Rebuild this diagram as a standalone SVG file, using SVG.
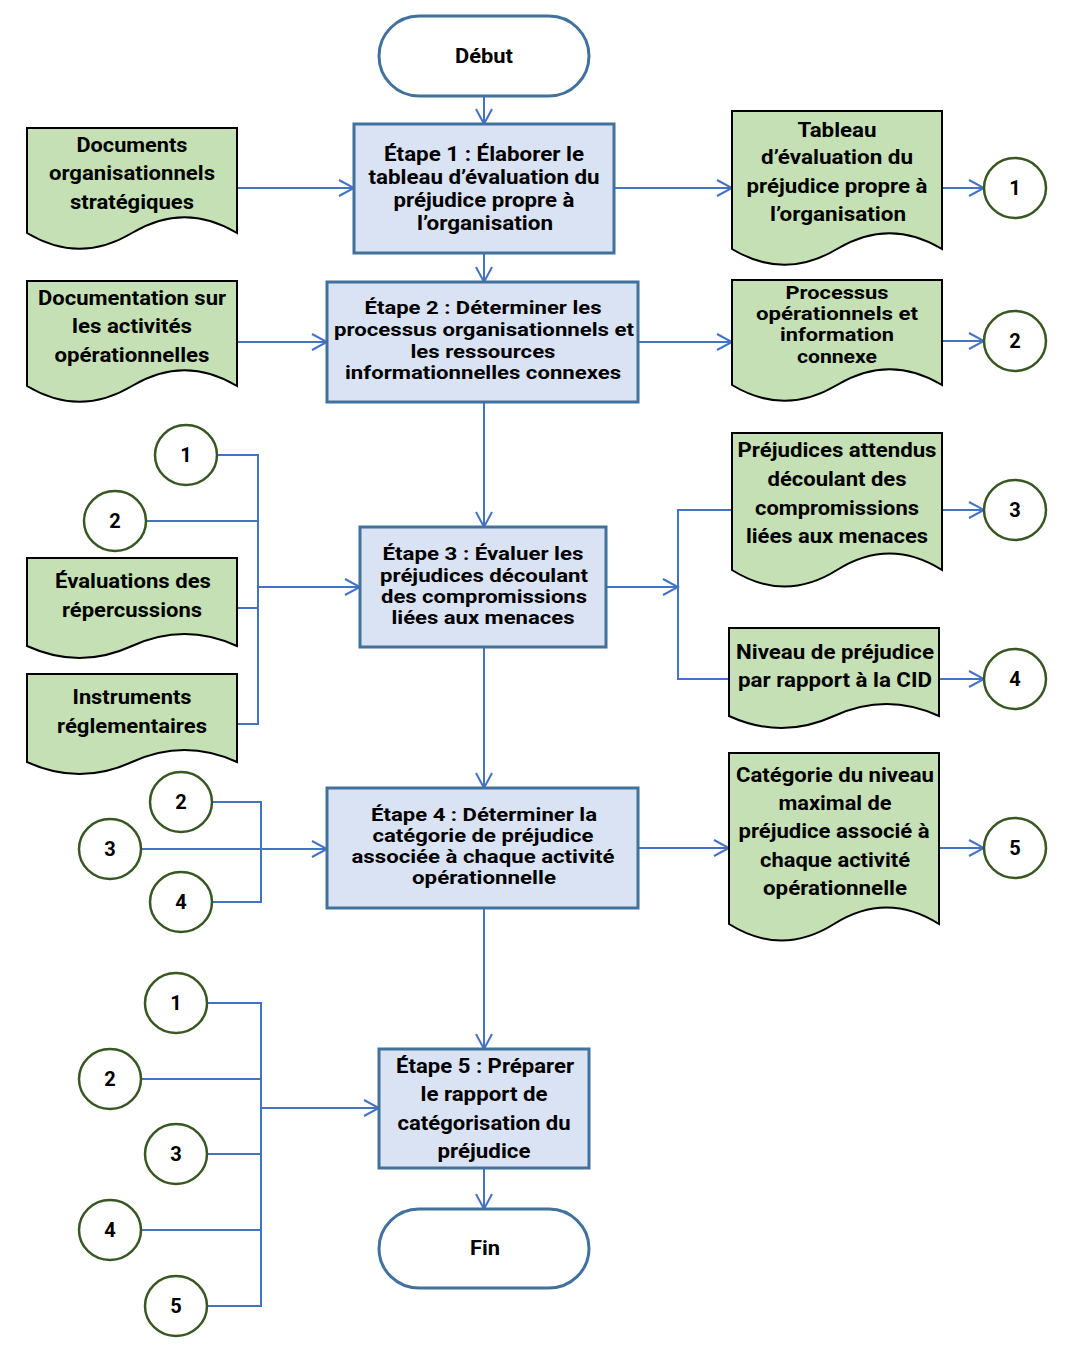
<svg xmlns="http://www.w3.org/2000/svg" width="1069" height="1362" viewBox="0 0 1069 1362">
<style>
  .term { fill: #ffffff; stroke: #41719C; stroke-width: 3; }
  .step { fill: #DAE3F3; stroke: #41719C; stroke-width: 3; }
  .doc { fill: #C5E0B4; stroke: #000000; stroke-width: 2; }
  .circ { fill: #ffffff; stroke: #385723; stroke-width: 2.5; }
  .t { font-family: Roboto, "Liberation Sans", sans-serif; font-weight: bold; fill: #000000; text-anchor: middle; }
  .ts { font-size: 20px; }
  .tt { font-size: 18px; }
  .td { font-size: 21px; }
  .tc { font-size: 20px; }
  .conn { fill: none; stroke: #4472C4; stroke-width: 2; }
</style>
<defs>
  <marker id="arr" markerWidth="18" markerHeight="20" refX="16" refY="9" orient="auto" markerUnits="userSpaceOnUse">
    <path d="M1,1 L16,9 L1,17" fill="none" stroke="#4472C4" stroke-width="2"/>
  </marker>
</defs>
<rect width="1069" height="1362" fill="#ffffff"/>

<g id="connectors">
  <path class="conn" d="M484,96 V124" marker-end="url(#arr)"/>
  <path class="conn" d="M484,253 V282" marker-end="url(#arr)"/>
  <path class="conn" d="M484,402 V527" marker-end="url(#arr)"/>
  <path class="conn" d="M484,647 V788" marker-end="url(#arr)"/>
  <path class="conn" d="M484,908 V1049" marker-end="url(#arr)"/>
  <path class="conn" d="M484,1168 V1209" marker-end="url(#arr)"/>
  <path class="conn" d="M237,188 H354" marker-end="url(#arr)"/>
  <path class="conn" d="M614,188 H732" marker-end="url(#arr)"/>
  <path class="conn" d="M942,188 H984" marker-end="url(#arr)"/>
  <path class="conn" d="M237,342 H327" marker-end="url(#arr)"/>
  <path class="conn" d="M638,342 H732" marker-end="url(#arr)"/>
  <path class="conn" d="M942,341 H984" marker-end="url(#arr)"/>
  <path class="conn" d="M217,455 H258 V724 H237"/>
  <path class="conn" d="M146,521 H258"/>
  <path class="conn" d="M237,608 H258"/>
  <path class="conn" d="M258,587 H360" marker-end="url(#arr)"/>
  <path class="conn" d="M606,587 H678" marker-end="url(#arr)"/>
  <path class="conn" d="M732,510 H678 V679 H729"/>
  <path class="conn" d="M942,510 H984" marker-end="url(#arr)"/>
  <path class="conn" d="M939,679 H984" marker-end="url(#arr)"/>
  <path class="conn" d="M212,802 H261 V902 H212"/>
  <path class="conn" d="M141,849 H327" marker-end="url(#arr)"/>
  <path class="conn" d="M638,848 H729" marker-end="url(#arr)"/>
  <path class="conn" d="M939,848 H984" marker-end="url(#arr)"/>
  <path class="conn" d="M207,1003 H261 V1306 H207"/>
  <path class="conn" d="M141,1079 H261"/>
  <path class="conn" d="M207,1154 H261"/>
  <path class="conn" d="M141,1230 H261"/>
  <path class="conn" d="M261,1108 H379" marker-end="url(#arr)"/>
</g>

<g id="debut">
  <rect class="term" x="379" y="16" width="210" height="80" rx="40" ry="40"/>
  <text class="t ts" x="484" y="63" textLength="58" lengthAdjust="spacingAndGlyphs">Début</text>
</g>

<g id="etape1">
  <rect class="step" x="354" y="124" width="260" height="129"/>
  <text class="t ts" x="484" y="161" textLength="200" lengthAdjust="spacingAndGlyphs">Étape 1 : Élaborer le</text>
  <text class="t ts" x="484" y="184" textLength="231" lengthAdjust="spacingAndGlyphs">tableau d’évaluation du</text>
  <text class="t ts" x="484" y="207" textLength="181" lengthAdjust="spacingAndGlyphs">préjudice propre à</text>
  <text class="t ts" x="485" y="230" textLength="136" lengthAdjust="spacingAndGlyphs">l’organisation</text>
</g>

<g id="etape2">
  <rect class="step" x="327" y="282" width="311" height="120"/>
  <text class="t tt" x="483" y="314" textLength="237" lengthAdjust="spacingAndGlyphs">Étape 2 : Déterminer les</text>
  <text class="t tt" x="484" y="336" textLength="300" lengthAdjust="spacingAndGlyphs">processus organisationnels et</text>
  <text class="t tt" x="483" y="358" textLength="145" lengthAdjust="spacingAndGlyphs">les ressources</text>
  <text class="t tt" x="483" y="379" textLength="276" lengthAdjust="spacingAndGlyphs">informationnelles connexes</text>
</g>

<g id="etape3">
  <rect class="step" x="360" y="527" width="246" height="120"/>
  <text class="t tt" x="483" y="560" textLength="201" lengthAdjust="spacingAndGlyphs">Étape 3 : Évaluer les</text>
  <text class="t tt" x="484" y="582" textLength="208" lengthAdjust="spacingAndGlyphs">préjudices découlant</text>
  <text class="t tt" x="484" y="603" textLength="206" lengthAdjust="spacingAndGlyphs">des compromissions</text>
  <text class="t tt" x="483" y="624" textLength="183" lengthAdjust="spacingAndGlyphs">liées aux menaces</text>
</g>

<g id="etape4">
  <rect class="step" x="327" y="788" width="311" height="120"/>
  <text class="t tt" x="484" y="821" textLength="226" lengthAdjust="spacingAndGlyphs">Étape 4 : Déterminer la</text>
  <text class="t tt" x="483" y="842" textLength="221" lengthAdjust="spacingAndGlyphs">catégorie de préjudice</text>
  <text class="t tt" x="483" y="863" textLength="263" lengthAdjust="spacingAndGlyphs">associée à chaque activité</text>
  <text class="t tt" x="484" y="884" textLength="144" lengthAdjust="spacingAndGlyphs">opérationnelle</text>
</g>

<g id="etape5">
  <rect class="step" x="379" y="1049" width="210" height="119"/>
  <text class="t ts" x="485" y="1073" textLength="178" lengthAdjust="spacingAndGlyphs">Étape 5 : Préparer</text>
  <text class="t ts" x="484" y="1101" textLength="127" lengthAdjust="spacingAndGlyphs">le rapport de</text>
  <text class="t ts" x="484" y="1130" textLength="173" lengthAdjust="spacingAndGlyphs">catégorisation du</text>
  <text class="t ts" x="484" y="1158" textLength="93" lengthAdjust="spacingAndGlyphs">préjudice</text>
</g>

<g id="fin">
  <rect class="term" x="379" y="1209" width="210" height="79" rx="40" ry="40"/>
  <text class="t ts" x="485" y="1255" textLength="30" lengthAdjust="spacingAndGlyphs">Fin</text>
</g>

<g id="doc-documents">
  <path class="doc" d="M27,128 H237 V233 C202,212 167,212 132,233 C97,254 62,254 27,233 Z"/>
  <text class="t td" x="132" y="152" textLength="111" lengthAdjust="spacingAndGlyphs">Documents</text>
  <text class="t td" x="132" y="180" textLength="166" lengthAdjust="spacingAndGlyphs">organisationnels</text>
  <text class="t td" x="132" y="209" textLength="124" lengthAdjust="spacingAndGlyphs">stratégiques</text>
</g>

<g id="doc-documentation">
  <path class="doc" d="M27,281 H237 V386 C202,365 167,365 132,386 C97,407 62,407 27,386 Z"/>
  <text class="t td" x="132" y="305" textLength="188" lengthAdjust="spacingAndGlyphs">Documentation sur</text>
  <text class="t td" x="132" y="333" textLength="120" lengthAdjust="spacingAndGlyphs">les activités</text>
  <text class="t td" x="132" y="362" textLength="155" lengthAdjust="spacingAndGlyphs">opérationnelles</text>
</g>

<g id="doc-evaluations">
  <path class="doc" d="M27,558 H237 V646 C202,630 167,630 132,646 C97,662 62,662 27,646 Z"/>
  <text class="t td" x="133" y="588" textLength="156" lengthAdjust="spacingAndGlyphs">Évaluations des</text>
  <text class="t td" x="132" y="617" textLength="140" lengthAdjust="spacingAndGlyphs">répercussions</text>
</g>

<g id="doc-instruments">
  <path class="doc" d="M27,674 H237 V762 C202,746 167,746 132,762 C97,778 62,778 27,762 Z"/>
  <text class="t td" x="132" y="704" textLength="119" lengthAdjust="spacingAndGlyphs">Instruments</text>
  <text class="t td" x="132" y="733" textLength="150" lengthAdjust="spacingAndGlyphs">réglementaires</text>
</g>

<g id="doc-tableau">
  <path class="doc" d="M732,111 H942 V249 C907,228 872,228 837,249 C802,270 767,270 732,249 Z"/>
  <text class="t td" x="837" y="137" textLength="79" lengthAdjust="spacingAndGlyphs">Tableau</text>
  <text class="t td" x="837" y="164" textLength="152" lengthAdjust="spacingAndGlyphs">d’évaluation du</text>
  <text class="t td" x="837" y="193" textLength="181" lengthAdjust="spacingAndGlyphs">préjudice propre à</text>
  <text class="t td" x="838" y="221" textLength="136" lengthAdjust="spacingAndGlyphs">l’organisation</text>
</g>

<g id="doc-processus">
  <path class="doc" d="M732,280 H942 V385 C907,364 872,364 837,385 C802,406 767,406 732,385 Z"/>
  <text class="t tt" x="837" y="299" textLength="103" lengthAdjust="spacingAndGlyphs">Processus</text>
  <text class="t tt" x="837" y="320" textLength="162" lengthAdjust="spacingAndGlyphs">opérationnels et</text>
  <text class="t tt" x="837" y="341" textLength="114" lengthAdjust="spacingAndGlyphs">information</text>
  <text class="t tt" x="837" y="363" textLength="80" lengthAdjust="spacingAndGlyphs">connexe</text>
</g>

<g id="doc-prejudices">
  <path class="doc" d="M732,433 H942 V570 C907,548 872,548 837,570 C802,592 767,592 732,570 Z"/>
  <text class="t td" x="837" y="457" textLength="199" lengthAdjust="spacingAndGlyphs">Préjudices attendus</text>
  <text class="t td" x="837" y="486" textLength="139" lengthAdjust="spacingAndGlyphs">découlant des</text>
  <text class="t td" x="837" y="515" textLength="164" lengthAdjust="spacingAndGlyphs">compromissions</text>
  <text class="t td" x="837" y="543" textLength="182" lengthAdjust="spacingAndGlyphs">liées aux menaces</text>
</g>

<g id="doc-niveau">
  <path class="doc" d="M729,628 H939 V716 C904,700 869,700 834,716 C799,732 764,732 729,716 Z"/>
  <text class="t td" x="835" y="659" textLength="198" lengthAdjust="spacingAndGlyphs">Niveau de préjudice</text>
  <text class="t td" x="835" y="687" textLength="194" lengthAdjust="spacingAndGlyphs">par rapport à la CID</text>
</g>

<g id="doc-categorie">
  <path class="doc" d="M729,753 H939 V924 C904,902 869,902 834,924 C799,946 764,946 729,924 Z"/>
  <text class="t td" x="835" y="782" textLength="198" lengthAdjust="spacingAndGlyphs">Catégorie du niveau</text>
  <text class="t td" x="835" y="810" textLength="113" lengthAdjust="spacingAndGlyphs">maximal de</text>
  <text class="t td" x="834" y="838" textLength="191" lengthAdjust="spacingAndGlyphs">préjudice associé à</text>
  <text class="t td" x="835" y="867" textLength="150" lengthAdjust="spacingAndGlyphs">chaque activité</text>
  <text class="t td" x="835" y="895" textLength="144" lengthAdjust="spacingAndGlyphs">opérationnelle</text>
</g>

<g id="out-1"><ellipse class="circ" cx="1015" cy="188" rx="31" ry="30"/><text class="t tc" x="1015" y="195">1</text></g>
<g id="out-2"><ellipse class="circ" cx="1015" cy="341" rx="31" ry="30"/><text class="t tc" x="1015" y="348">2</text></g>
<g id="out-3"><ellipse class="circ" cx="1015" cy="510" rx="31" ry="30"/><text class="t tc" x="1015" y="517">3</text></g>
<g id="out-4"><ellipse class="circ" cx="1015" cy="679" rx="31" ry="30"/><text class="t tc" x="1015" y="686">4</text></g>
<g id="out-5"><ellipse class="circ" cx="1015" cy="848" rx="31" ry="30"/><text class="t tc" x="1015" y="855">5</text></g>

<g id="s3-in-1"><ellipse class="circ" cx="186" cy="455" rx="31" ry="30"/><text class="t tc" x="186" y="462">1</text></g>
<g id="s3-in-2"><ellipse class="circ" cx="115" cy="521" rx="31" ry="30"/><text class="t tc" x="115" y="528">2</text></g>

<g id="s4-in-2"><ellipse class="circ" cx="181" cy="802" rx="31" ry="30"/><text class="t tc" x="181" y="809">2</text></g>
<g id="s4-in-3"><ellipse class="circ" cx="110" cy="849" rx="31" ry="30"/><text class="t tc" x="110" y="856">3</text></g>
<g id="s4-in-4"><ellipse class="circ" cx="181" cy="902" rx="31" ry="30"/><text class="t tc" x="181" y="909">4</text></g>

<g id="s5-in-1"><ellipse class="circ" cx="176" cy="1003" rx="31" ry="30"/><text class="t tc" x="176" y="1010">1</text></g>
<g id="s5-in-2"><ellipse class="circ" cx="110" cy="1079" rx="31" ry="30"/><text class="t tc" x="110" y="1086">2</text></g>
<g id="s5-in-3"><ellipse class="circ" cx="176" cy="1154" rx="31" ry="30"/><text class="t tc" x="176" y="1161">3</text></g>
<g id="s5-in-4"><ellipse class="circ" cx="110" cy="1230" rx="31" ry="30"/><text class="t tc" x="110" y="1237">4</text></g>
<g id="s5-in-5"><ellipse class="circ" cx="176" cy="1306" rx="31" ry="30"/><text class="t tc" x="176" y="1313">5</text></g>
</svg>
